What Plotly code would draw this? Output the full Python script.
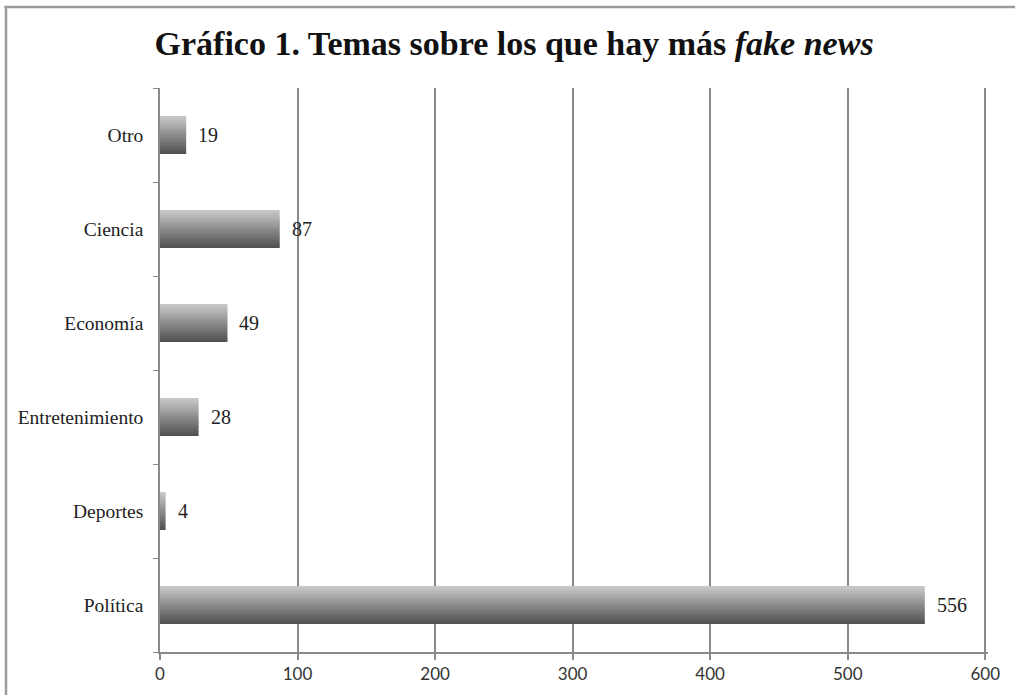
import plotly.graph_objects as go

# ---- data ----
categories = ["Política", "Deportes", "Entretenimiento", "Economía", "Ciencia", "Otro"]
values = [556, 4, 28, 49, 87, 19]
x_tick_values = [0, 100, 200, 300, 400, 500, 600]
x_tick_labels = ["0", "100", "200", "300", "400", "500", "600"]
title_text = "<b>Gráfico 1. Temas sobre los que hay más <i>fake news</i></b>"

# ---- style ----
SERIF = "Liberation Serif, Times New Roman, serif"
SANS = "Lato, Carlito, Calibri, sans-serif"
AXIS_GRAY = "#8a8a8a"
BAR_W = 0.4
N_BANDS = 24
dark = (80, 80, 80)
light = (198, 198, 198)

fig = go.Figure()

# gradient bars: stack thin bands of the same bar, dark at bottom -> light at top
band = BAR_W / N_BANDS
for i in range(N_BANDS):
    t = i / (N_BANDS - 1)
    c = tuple(int(round(dark[k] + (light[k] - dark[k]) * t)) for k in range(3))
    fig.add_trace(go.Bar(
        y=categories, x=values, orientation="h",
        width=band * 1.08, offset=-BAR_W / 2 + i * band,
        marker=dict(color=f"rgb{c}", line=dict(width=0)),
        hoverinfo="skip", showlegend=False,
    ))

annotations = []
for c, v in zip(categories, values):
    annotations.append(dict(
        x=v, y=c, xref="x", yref="y", text=str(v), showarrow=False,
        xanchor="left", yanchor="middle", xshift=10,
        font=dict(family=SERIF, size=20, color="#222222"),
    ))

# frame lines (top & left) in paper coords relative to plot area (l=160, w=828, t=88, h=564)
shapes = [
    dict(type="line", xref="paper", yref="paper", x0=-0.188, x1=1.0327, y0=1.1436, y1=1.1436,
         line=dict(color="#9a9a9a", width=2.5)),
    dict(type="line", xref="paper", yref="paper", x0=-0.186, x1=-0.186, y0=1.1436, y1=-0.09,
         line=dict(color="#9a9a9a", width=2.5)),
]

fig.update_layout(
    width=1018, height=695,
    margin=dict(l=160, r=30, t=88, b=43),
    paper_bgcolor="white", plot_bgcolor="white",
    barmode="overlay",
    title=dict(text=title_text, x=0.505, xref="container", xanchor="center",
               y=0.938, yref="container", yanchor="middle",
               font=dict(family=SERIF, size=34, color="#111111")),
    xaxis=dict(range=[0, 602], tickvals=x_tick_values, ticktext=x_tick_labels,
               showgrid=True, gridcolor=AXIS_GRAY, gridwidth=1.5,
               showline=True, linecolor=AXIS_GRAY, linewidth=1.5,
               ticks="outside", ticklen=6, tickcolor=AXIS_GRAY, tickwidth=1.5,
               zeroline=False, automargin=False,
               tickfont=dict(family=SANS, size=17, color="#333333")),
    yaxis=dict(type="category", categoryorder="array", categoryarray=categories,
               tickson="boundaries", ticks="outside", ticklen=5, tickcolor=AXIS_GRAY,
               showline=True, linecolor=AXIS_GRAY, linewidth=1.5, showgrid=False,
               automargin=False, ticklabelstandoff=11,
               tickfont=dict(family=SERIF, size=19.5, color="#222222")),
    annotations=annotations,
    shapes=shapes,
)

fig.write_html("out.html", config={"displayModeBar": False},
               post_script="document.body.style.margin='0';document.body.style.overflow='hidden';")
